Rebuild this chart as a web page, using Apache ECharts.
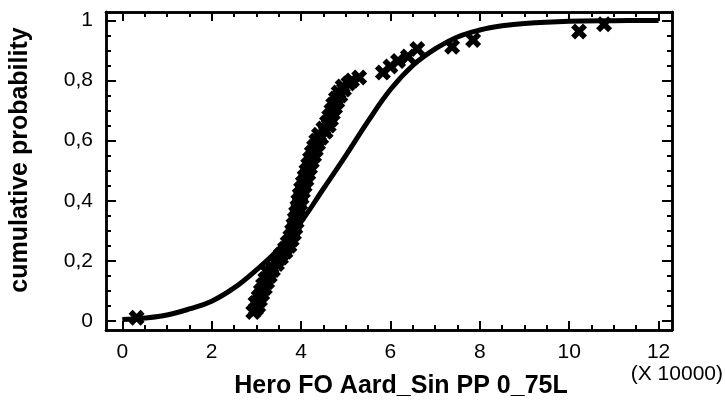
<!DOCTYPE html>
<html>
<head>
<meta charset="utf-8">
<script src="https://cdn.jsdelivr.net/npm/echarts@6/dist/echarts.min.js"></script>
<style>
html,body{margin:0;padding:0;background:#fff;}
#c{width:725px;height:404px;}
</style>
</head>
<body>
<div id="c"></div>
<script>
// Fitted distribution curve (x in units of 10000)
const curveX = [0, 0.5, 1, 1.5, 2, 2.5, 3, 3.5, 4, 4.5, 5, 5.5, 6, 6.5, 7, 7.5, 8, 8.5, 9, 10, 11, 12];
const curveY = [0.005, 0.01, 0.02, 0.04, 0.066, 0.11, 0.17, 0.24, 0.33, 0.44, 0.55, 0.665, 0.77, 0.85, 0.905, 0.945, 0.968, 0.982, 0.99, 0.997, 0.999, 1.0];

// Observed cumulative probabilities
const obsX = [0.32,
  2.93, 2.99, 3.04, 2.98, 3.08, 3.05, 3.13, 3.10, 3.19, 3.15, 3.24, 3.20, 3.30, 3.27, 3.37, 3.34, 3.46, 3.45, 3.55, 3.55,
  3.65, 3.64, 3.74, 3.70, 3.79, 3.76, 3.84, 3.80, 3.87, 3.83, 3.90, 3.86, 3.93, 3.89, 3.95, 3.92, 3.98, 3.94, 4.01, 3.97,
  4.04, 4.00, 4.08, 4.04, 4.12, 4.08, 4.16, 4.12, 4.20, 4.16, 4.24, 4.20, 4.29, 4.24, 4.33, 4.29, 4.38, 4.34, 4.45, 4.40,
  4.55, 4.50, 4.62, 4.58, 4.67, 4.63, 4.71, 4.68, 4.76, 4.72, 4.81, 4.78, 4.88, 4.84, 4.96, 4.93, 5.06, 5.14, 5.30,
  5.83, 6.00, 6.17, 6.39, 6.60, 7.38, 7.85, 10.22, 10.78];
const obsY = [0.011,
  0.03, 0.04, 0.05, 0.06, 0.07, 0.08, 0.09, 0.10, 0.11, 0.12, 0.13, 0.14, 0.15, 0.16, 0.17, 0.18, 0.19, 0.20, 0.21, 0.22,
  0.23, 0.24, 0.25, 0.26, 0.27, 0.28, 0.29, 0.30, 0.31, 0.32, 0.33, 0.34, 0.35, 0.36, 0.37, 0.38, 0.39, 0.40, 0.41, 0.42,
  0.43, 0.44, 0.45, 0.46, 0.47, 0.48, 0.49, 0.50, 0.51, 0.52, 0.53, 0.54, 0.55, 0.56, 0.57, 0.58, 0.59, 0.60, 0.61, 0.62,
  0.63, 0.64, 0.65, 0.66, 0.67, 0.68, 0.69, 0.70, 0.71, 0.72, 0.73, 0.74, 0.75, 0.76, 0.77, 0.78, 0.79, 0.80, 0.81,
  0.827, 0.847, 0.865, 0.88, 0.905, 0.912, 0.935, 0.963, 0.987];

// Tick values / labels
const xMajorTicks = [0, 2, 4, 6, 8, 10, 12];
const xTickLabels = ['0', '2', '4', '6', '8', '10', '12'];
const xMinorTicks = [0.5, 1, 1.5, 2.5, 3, 3.5, 4.5, 5, 5.5, 6.5, 7, 7.5, 8.5, 9, 9.5, 10.5, 11, 11.5];
const yMajorTicks = [0, 0.2, 0.4, 0.6, 0.8, 1];
const yTickLabels = ['0', '0,2', '0,4', '0,6', '0,8', '1'];
const yMinorTicks = [0.05, 0.1, 0.15, 0.25, 0.3, 0.35, 0.45, 0.5, 0.55, 0.65, 0.7, 0.75, 0.85, 0.9, 0.95];

const xTitle = 'Hero FO Aard_Sin PP 0_75L';
const yTitle = 'cumulative probability';
const xUnit = '(X 10000)';

const X_MIN = -0.365, X_MAX = 12.3, Y_MIN = -0.03, Y_MAX = 1.028;
const FONT = '"Liberation Sans", Arial, Helvetica, sans-serif';

function lbl(vals, labels) {
  return function (v) {
    for (let i = 0; i < vals.length; i++) if (Math.abs(vals[i] - v) < 1e-6) return labels[i];
    return '';
  };
}

function xAx(pos, major, withLabels) {
  const a = {
    type: 'value', gridIndex: 0, position: pos, min: X_MIN, max: X_MAX,
    axisLine: { show: true, onZero: false, lineStyle: { color: '#000', width: 2.5 } },
    axisTick: { show: true, inside: true, length: major ? 9 : 5, customValues: major ? xMajorTicks : xMinorTicks,
      lineStyle: { color: '#000', width: 2 } },
    axisLabel: { show: false },
    splitLine: { show: false }
  };
  if (withLabels) {
    a.axisLabel = { show: true, customValues: xMajorTicks, formatter: lbl(xMajorTicks, xTickLabels),
      color: '#000', fontFamily: FONT, fontSize: 21, margin: 12 };
    a.name = xTitle;
    a.nameLocation = 'middle';
    a.nameGap = 44;
    a.nameTextStyle = { color: '#000', fontFamily: FONT, fontSize: 25, fontWeight: 'bold', padding: [0, 0, 0, 24] };
  }
  return a;
}
function yAx(pos, major, withLabels) {
  const a = {
    type: 'value', gridIndex: 0, position: pos, min: Y_MIN, max: Y_MAX,
    axisLine: { show: true, onZero: false, lineStyle: { color: '#000', width: 2.5 } },
    axisTick: { show: true, inside: true, length: major ? 10 : 5, customValues: major ? yMajorTicks : yMinorTicks,
      lineStyle: { color: '#000', width: 2 } },
    axisLabel: { show: false },
    splitLine: { show: false }
  };
  if (withLabels) {
    a.axisLabel = { show: true, customValues: yMajorTicks, formatter: lbl(yMajorTicks, yTickLabels),
      color: '#000', fontFamily: FONT, fontSize: 21, margin: 13 };
    a.name = yTitle;
    a.nameLocation = 'middle';
    a.nameGap = 73;
    a.nameRotate = 90;
    a.nameTextStyle = { color: '#000', fontFamily: FONT, fontSize: 25, fontWeight: 'bold', padding: [0, 0, 0, 22] };
  }
  return a;
}

const curveData = curveX.map((x, i) => [x, curveY[i]]);
const obsData = obsX.map((x, i) => [x, obsY[i]]);

const chart = echarts.init(document.getElementById('c'), null, { renderer: 'canvas' });
chart.setOption({
  animation: false,
  backgroundColor: '#fff',
  grid: { left: 106, right: 53, top: 12, bottom: 74, containLabel: false },
  xAxis: [xAx('bottom', true, true), xAx('bottom', false, false), xAx('top', true, false), xAx('top', false, false)],
  yAxis: [yAx('left', true, true), yAx('left', false, false), yAx('right', true, false), yAx('right', false, false)],
  graphic: [{
    type: 'text', right: 2, top: 364,
    style: { text: xUnit, fill: '#000', font: '21px ' + FONT }
  }],
  series: [
    {
      type: 'line', data: curveData, xAxisIndex: 0, yAxisIndex: 0, smooth: 0.4,
      showSymbol: false, lineStyle: { color: '#000', width: 5 }
    },
    {
      type: 'scatter', data: obsData, xAxisIndex: 0, yAxisIndex: 0,
      symbol: 'path://M0,2.5 L2.5,0 L5,2.5 L7.5,0 L10,2.5 L7.5,5 L10,7.5 L7.5,10 L5,7.5 L2.5,10 L0,7.5 L2.5,5 Z',
      symbolSize: 16, itemStyle: { color: '#000', opacity: 1 }
    }
  ]
});
</script>
</body>
</html>
